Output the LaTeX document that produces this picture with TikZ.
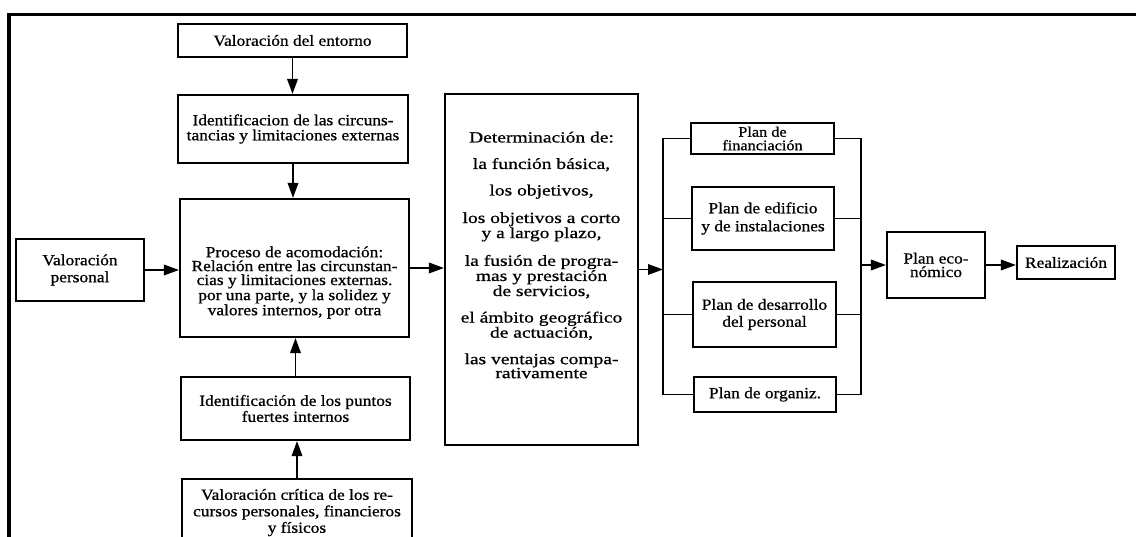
\documentclass[tikz,border=0pt]{standalone}
\usepackage{fontspec}
\setmainfont{Liberation Serif}[FakeStretch=1.12,FakeBold=0.8]
\newfontfamily\detfont{Liberation Serif}[FakeStretch=1.26,FakeBold=0.8]
\usetikzlibrary{arrows.meta}
\newcommand\fs[1]{\fontsize{15.5}{#1}\selectfont}
\begin{document}
\begin{tikzpicture}[x=1pt,y=-1pt,
  box/.style={draw, line width=2.1pt, inner sep=0pt, align=center, font=\fs{15}},
  txt/.style={inner sep=0pt, align=center},
  arr/.style={line width=1.8pt, -{Triangle[length=15pt,width=10.5pt]}},
  bus/.style={line width=1.8pt},
  frame/.style={line width=3.8pt}]
\useasboundingbox (0,0) rectangle (1136,537);
\clip (0,0) rectangle (1136,537);
% frame
\coordinate (fTL) at (9,14.5);
\coordinate (fTR) at (1140,14.5);
\coordinate (fBL) at (9,540);
\draw[frame] (fTR) -- (fTL) -- (fBL);
% left column
\node[box, minimum width=229pt, minimum height=33pt] (entorno) at (292.5,40.5) {Valoración del entorno};
\node[box, minimum width=230pt, minimum height=68pt, font=\fs{15}] (ident) at (293,129) {Identificacion de las circuns-\\tancias y limitaciones externas};
\node[box, minimum width=229pt, minimum height=138pt] (proc) at (294.5,268) {};
\node[txt, font=\fs{13.9}] (proctext) at (294.5,282.5) {Proceso de acomodación:\\Relación entre las circunstan-\\cias y limitaciones externas.\\por una parte, y la solidez y\\valores internos, por otra};
\node[box, minimum width=128pt, minimum height=62pt, font=\fs{17}] (pers) at (80,270) {Valoración\\personal};
\node[box, minimum width=229pt, minimum height=63pt, font=\fs{16}] (punt) at (295.5,408.5) {Identificación de los puntos\\fuertes internos};
\node[box, anchor=north, minimum width=230pt, inner ysep=10pt, font=\fs{16.5}] (crit) at (297,478) {Valoración crítica de los re-\\cursos personales, financieros\\y físicos};
% determination
\node[box, minimum width=193pt, minimum height=351pt] (det) at (541.5,269.5) {};
\node[txt, font=\detfont\fs{14}] (dettext) at (541.5,255) {Determinación de:\\[12.5pt]la función básica,\\[12.5pt]los objetivos,\\[12.5pt]los objetivos a corto\\y a largo plazo,\\[12.5pt]la fusión de progra-\\mas y prestación\\de servicios,\\[12.5pt]el ámbito geográfico\\de actuación,\\[12.5pt]las ventajas compa-\\rativamente};
% plans
\node[box, minimum width=143pt, minimum height=31pt, font=\fontsize{14.5}{13.5}\selectfont] (fin) at (762.5,138.5) {Plan de\\financiación};
\node[box, minimum width=142pt, minimum height=63pt, font=\fs{18}] (edif) at (763,218.5) {Plan de edificio\\y de instalaciones};
\node[box, minimum width=143pt, minimum height=65pt, font=\fs{17}] (desa) at (764.5,314.5) {Plan de desarrollo\\del personal};
\node[box, minimum width=142pt, minimum height=35pt] (org) at (765,394.5) {Plan de organiz.};
\node[box, minimum width=98pt, minimum height=66pt, font=\fs{13.5}] (econ) at (936,265) {Plan eco-\\nómico};
\node[box, minimum width=98pt, minimum height=33pt] (real) at (1066,262.5) {Realización};
% connectors
\draw[arr] (entorno.south) -- (entorno.south |- ident.north);
\draw[arr] (ident.south) -- (ident.south |- proc.north);
\draw[arr] (punt.north) -- (punt.north |- proc.south);
\draw[arr] (crit.north) -- (crit.north |- punt.south);
\draw[arr] (pers.east) -- (pers.east -| proc.west);
\draw[arr] (proc.east) -- (proc.east -| det.west);
\coordinate (busL) at (663,268);
\coordinate (busR) at (861,265);
\draw[arr] (det.east) -- (det.east -| busL);
\draw[bus] (fin.west) -- (fin.west -| busL) -- (org.west -| busL) -- (org.west);
\draw[bus] (edif.west) -- (edif.west -| busL);
\draw[bus] (desa.west) -- (desa.west -| busL);
\draw[bus] (fin.east) -- (fin.east -| busR) -- (org.east -| busR) -- (org.east);
\draw[bus] (edif.east) -- (edif.east -| busR);
\draw[bus] (desa.east) -- (desa.east -| busR);
\draw[arr] (econ.west -| busR) -- (econ.west);
\draw[arr] (econ.east) -- (econ.east -| real.west);
\end{tikzpicture}
\end{document}
